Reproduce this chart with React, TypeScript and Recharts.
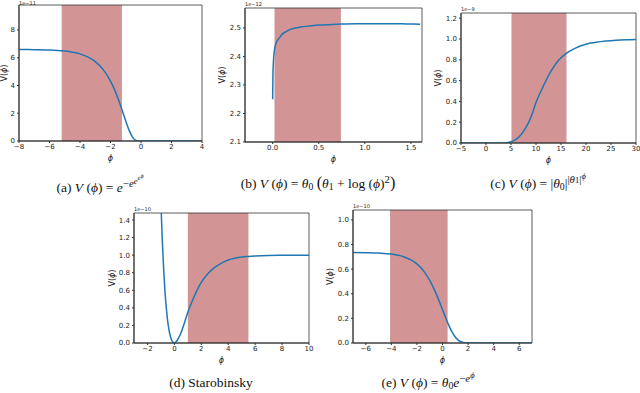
import { LineChart, Line, XAxis, YAxis, ReferenceArea, Label } from "recharts";

// (a) V = e^{-e^{e^{e^phi}}}
const aPhi = [-8, -7, -6, -5, -4.5, -4, -3.5, -3, -2.5, -2, -1.75, -1.5, -1.25, -1, -0.75, -0.5, -0.25, 0, 1, 2, 3, 4];
const aV = [6.59, 6.58, 6.56, 6.48, 6.4, 6.28, 6.06, 5.72, 5.18, 4.32, 3.74, 3.05, 2.26, 1.44, 0.69, 0.19, 0.01, 0, 0, 0, 0, 0];
const aXTicks = [-8, -6, -4, -2, 0, 2, 4];
const aYTicks = [0, 2, 4, 6, 8];

// (b) log^2 potential
const bPhi = [0, 0.003, 0.008, 0.015, 0.03, 0.05, 0.075, 0.1, 0.15, 0.2, 0.3, 0.4, 0.5, 0.7, 0.9, 1.1, 1.3, 1.45, 1.6];
const bV = [2.25, 2.33, 2.38, 2.41, 2.44, 2.455, 2.466, 2.477, 2.488, 2.496, 2.503, 2.507, 2.51, 2.513, 2.515, 2.515, 2.515, 2.514, 2.513];
const bXTicks = [0, 0.5, 1, 1.5];
const bYTicks = [2.1, 2.2, 2.3, 2.4, 2.5];

// (c) |theta0|^{|theta1|^phi}
const cPhi = [-5, 0, 3, 4, 5, 6, 7, 8, 9, 10, 11, 12, 13, 14, 15, 16, 17, 18, 19, 20, 22, 24, 26, 28, 30];
const cV = [0, 0, 0.0005, 0.003, 0.012, 0.035, 0.08, 0.15, 0.25, 0.39, 0.5, 0.6, 0.69, 0.765, 0.82, 0.86, 0.89, 0.915, 0.935, 0.95, 0.968, 0.98, 0.988, 0.993, 0.996];
const cXTicks = [-5, 0, 5, 10, 15, 20, 25, 30];
const cYTicks = [0, 0.2, 0.4, 0.6, 0.8, 1.0, 1.2];

// (d) Starobinsky
const dPhi = [-1, -0.9, -0.8, -0.7, -0.6, -0.5, -0.4, -0.3, -0.2, -0.1, 0, 0.1, 0.25, 0.5, 0.75, 1, 1.25, 1.5, 2, 2.5, 3, 3.5, 4, 4.5, 5, 5.5, 6, 7, 8, 10];
const dV = [1.59, 1.18, 0.85, 0.59, 0.4, 0.25, 0.15, 0.077, 0.032, 0.007, 0, 0.01, 0.04, 0.12, 0.23, 0.35, 0.45, 0.54, 0.69, 0.79, 0.86, 0.91, 0.945, 0.965, 0.978, 0.985, 0.99, 0.996, 0.998, 1.0];
const dXTicks = [-2, 0, 2, 4, 6, 8, 10];
const dYTicks = [0, 0.2, 0.4, 0.6, 0.8, 1.0, 1.2, 1.4];

// (e) theta0 e^{-e^phi}
const ePhi = [-7, -6, -5, -4, -3, -2.5, -2, -1.5, -1, -0.5, 0, 0.25, 0.5, 0.75, 1, 1.25, 1.5, 1.75, 2, 2.5, 3, 5, 7];
const eV = [0.734, 0.733, 0.73, 0.722, 0.699, 0.677, 0.642, 0.588, 0.509, 0.401, 0.27, 0.204, 0.141, 0.089, 0.049, 0.022, 0.008, 0.002, 0.0005, 0, 0, 0, 0];
const eXTicks = [-6, -4, -2, 0, 2, 4, 6];
const eYTicks = [0, 0.2, 0.4, 0.6, 0.8, 1.0];

const FONT = "DejaVu Sans";
const INK = "#222";

const fmt = (dec: number) => (t: number) => t.toFixed(dec).replace("-", "\u2212");

type PanelProps = {
  phi: number[];
  v: number[];
  box: [number, number, number, number];
  xDomain: [number, number];
  yDomain: [number, number];
  xTicks: number[];
  yTicks: number[];
  xDec: number;
  yDec: number;
  shade: [number, number];
  exponent: string;
  ylabelDist: number;
};

function Panel(p: PanelProps) {
  const [x0, y0, x1, y1] = p.box;
  const L = 34, R = 6, T = 12, B = 26;
  const data = p.phi.map((x, i) => ({ phi: x, v: p.v[i] }));
  return (
    <div style={{ position: "absolute", left: x0 - L, top: y0 - T }}>
      <LineChart
        width={x1 - x0 + L + R}
        height={y1 - y0 + T + B}
        data={data}
        margin={{ top: T, right: R, bottom: 0, left: 0 }}
        style={{ fontFamily: FONT }}
      >
        <ReferenceArea x1={p.shade[0]} x2={p.shade[1]} y1={p.yDomain[0]} y2={p.yDomain[1]} fill="#a52a2a" fillOpacity={0.5} stroke="none" />
        <XAxis
          type="number"
          dataKey="phi"
          domain={p.xDomain}
          ticks={p.xTicks}
          interval={0}
          allowDataOverflow
          tickFormatter={fmt(p.xDec)}
          height={B}
          tickSize={2}
          tickMargin={1}
          stroke="#333"
          tick={{ fontSize: 7, fill: INK }}
        >
          <Label
            content={(lp: any) => {
              const vb = lp.viewBox;
              return (
                <text x={vb.x + vb.width / 2} y={vb.y + 20} textAnchor="middle" fontSize={8} fontStyle="italic" fill={INK}>
                  ϕ
                </text>
              );
            }}
          />
        </XAxis>
        <YAxis
          type="number"
          domain={p.yDomain}
          ticks={p.yTicks}
          interval={0}
          allowDataOverflow
          tickFormatter={fmt(p.yDec)}
          width={L}
          tickSize={2}
          tickMargin={2}
          stroke="#333"
          tick={{ fontSize: 7, fill: INK }}
        >
          <Label
            content={(lp: any) => {
              const vb = lp.viewBox;
              const lx = vb.x + vb.width - p.ylabelDist;
              const ly = vb.y + vb.height / 2;
              // keep the offset text inside the page for the top-left panel
              const ey = Math.max(vb.y - 2, 12 - y0 + 5);
              return (
                <g>
                  <text x={lx} y={ly} textAnchor="middle" dominantBaseline="central" fontSize={8} fill={INK} transform={`rotate(-90, ${lx}, ${ly})`}>
                    V(<tspan fontStyle="italic">ϕ</tspan>)
                  </text>
                  <text x={vb.x + vb.width} y={ey} fontSize={5} fill={INK}>
                    {p.exponent}
                  </text>
                </g>
              );
            }}
          />
        </YAxis>
        <Line type="monotone" dataKey="v" stroke="#1f77b4" strokeWidth={1.5} dot={false} isAnimationActive={false} />
        <ReferenceArea x1={p.xDomain[0]} x2={p.xDomain[1]} y1={p.yDomain[0]} y2={p.yDomain[1]} fill="none" stroke="#333" strokeWidth={0.8} />
      </LineChart>
    </div>
  );
}

function Caption({ cx, baseline, children }: { cx: number; baseline: number; children: any }) {
  return (
    <div
      style={{
        position: "absolute",
        left: cx,
        top: baseline - 13,
        transform: "translateX(-50%)",
        whiteSpace: "nowrap",
        fontFamily: "Liberation Serif",
        fontSize: 13.5,
        lineHeight: "16px",
        color: "#111",
      }}
    >
      {children}
    </div>
  );
}

const sup = { fontSize: "0.8em", verticalAlign: "0.45em", lineHeight: 0 } as const;
const sub = { fontSize: "0.72em", verticalAlign: "-0.25em", lineHeight: 0 } as const;

export default function App() {
  return (
    <div style={{ position: "absolute", left: 0, top: 0, width: 640, height: 393, overflow: "hidden", background: "#fff" }}>
      <Panel phi={aPhi} v={aV} box={[19, 5, 202, 141]} xDomain={[-8, 4]} yDomain={[0, 9.8]} xTicks={aXTicks} yTicks={aYTicks} xDec={0} yDec={0} shade={[-5.2, -1.25]} exponent="1e−11" ylabelDist={15} />
      <Panel phi={bPhi} v={bV} box={[245, 8, 422, 142]} xDomain={[-0.3, 1.62]} yDomain={[2.1, 2.57]} xTicks={bXTicks} yTicks={bYTicks} xDec={1} yDec={1} shade={[0.02, 0.74]} exponent="1e−12" ylabelDist={23} />
      <Panel phi={cPhi} v={cV} box={[461, 13, 636, 143]} xDomain={[-5, 30]} yDomain={[0, 1.25]} xTicks={cXTicks} yTicks={cYTicks} xDec={0} yDec={1} shade={[5.1, 16.1]} exponent="1e−9" ylabelDist={23} />
      <Panel phi={dPhi} v={dV} box={[134, 213, 309, 343]} xDomain={[-3, 10]} yDomain={[0, 1.48]} xTicks={dXTicks} yTicks={dYTicks} xDec={0} yDec={1} shade={[1.0, 5.5]} exponent="1e−10" ylabelDist={22} />
      <Panel phi={ePhi} v={eV} box={[353, 210, 532, 343]} xDomain={[-7, 7]} yDomain={[0, 1.08]} xTicks={eXTicks} yTicks={eYTicks} xDec={0} yDec={1} shade={[-4.1, 0.4]} exponent="1e−10" ylabelDist={23} />

      <Caption cx={100} baseline={189}>
        (a) <i>V</i> (<i>ϕ</i>) = <i>e</i>
        <span style={sup}>
          −<i>e</i>
          <span style={sup}>
            <i>e</i>
            <span style={sup}>
              <i>e</i>
              <span style={sup}>
                <i>ϕ</i>
              </span>
            </span>
          </span>
        </span>
      </Caption>
      <Caption cx={318} baseline={189}>
        (b) <i>V</i> (<i>ϕ</i>) = <i>θ</i>
        <span style={sub}>0</span> <span style={{ fontSize: "1.2em", lineHeight: 0 }}>(</span>
        <i>θ</i>
        <span style={sub}>1</span> + log (<i>ϕ</i>)<span style={sup}>2</span>
        <span style={{ fontSize: "1.2em", lineHeight: 0 }}>)</span>
      </Caption>
      <Caption cx={538} baseline={189}>
        (c) <i>V</i> (<i>ϕ</i>) = |<i>θ</i>
        <span style={sub}>0</span>|
        <span style={sup}>
          |<i>θ</i>
          <span style={{ fontSize: "0.8em" }}>1</span>|
          <span style={sup}>
            <i>ϕ</i>
          </span>
        </span>
      </Caption>
      <Caption cx={211} baseline={388}>
        (d) Starobinsky
      </Caption>
      <Caption cx={428} baseline={388}>
        (e) <i>V</i> (<i>ϕ</i>) = <i>θ</i>
        <span style={sub}>0</span>
        <i>e</i>
        <span style={sup}>
          −<i>e</i>
          <span style={sup}>
            <i>ϕ</i>
          </span>
        </span>
      </Caption>
    </div>
  );
}
